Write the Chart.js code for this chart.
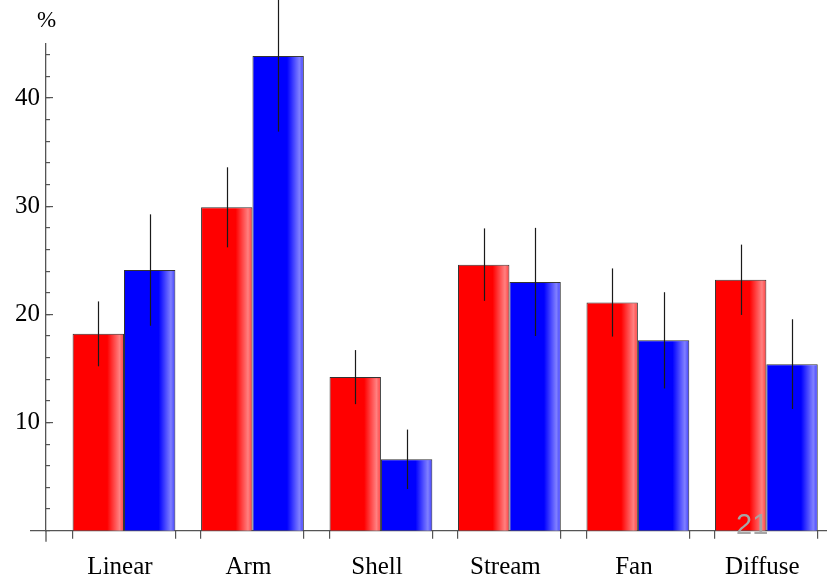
<!DOCTYPE html>
<html>
<head>
<meta charset="utf-8">
<script src="https://cdn.jsdelivr.net/npm/chart.js@4.4.1/dist/chart.umd.min.js"></script>
<style>
  html, body { margin: 0; padding: 0; background: #fff; overflow: hidden; }
  #wrap { position: relative; width: 827px; height: 576px; }
  canvas { display: block; }
  #unit { position: absolute; left: 37px; top: 7px; font: 23px "Liberation Serif", serif; color: #000; }
  #page { position: absolute; left: 736px; top: 508px; font: 29px "Liberation Sans", sans-serif; color: #a6a6a6; }
</style>
</head>
<body>
<div id="wrap">
  <canvas id="chart" width="827" height="576"></canvas>
  <div id="unit">%</div>
  <div id="page">21</div>
</div>
<script>
// Morphology classes and percentages for the two samples, with their uncertainties
const categories = ['Linear', 'Arm', 'Shell', 'Stream', 'Fan', 'Diffuse'];
const redValues  = [18.2, 29.9, 14.2, 24.6, 21.1, 23.2];
const redErrors  = [3.0, 3.7, 2.5, 3.35, 3.15, 3.25];
const blueValues = [24.1, 43.9, 6.6, 23.0, 17.6, 15.4];
const blueErrors = [5.15, 7.0, 2.75, 5.0, 4.45, 4.15];
const yLabelTicks = [10, 20, 30, 40];

// Axis frame
const X_MIN = -0.607, X_MAX = 5.472;
const Y_MIN = 0, Y_MAX = 45;
const GROUP = 0.8;        // fraction of each slot taken by a pair of bars
const AXIS_LEFT = 46;     // width reserved for the y axis
const AXIS_BOTTOM = 45.3; // height reserved for the x axis

const toPoints = vals => vals.map((v, i) => ({ x: i, y: v }));
const groupEdges = categories.flatMap((c, i) => [i - GROUP / 2, i + GROUP / 2]);

// Lighter sheen on the right-hand side of each bar, error bars on top,
// and the axis lines continuing a little past their crossing point
const barDecor = {
  id: 'barDecor',
  afterDatasetsDraw(chart) {
    const ctx = chart.ctx;
    const yScale = chart.scales.y;
    const errs = [redErrors, blueErrors];
    ctx.save();
    chart.data.datasets.forEach((ds, di) => {
      chart.getDatasetMeta(di).data.forEach(bar => {
        const { x, y, base, width } = bar.getProps(['x', 'y', 'base', 'width'], true);
        const l = x - width / 2 + 1, r = x + width / 2 - 1;
        const g = ctx.createLinearGradient(l, 0, r, 0);
        g.addColorStop(0, 'rgba(255,255,255,0)');
        g.addColorStop(0.68, 'rgba(255,255,255,0)');
        g.addColorStop(0.93, 'rgba(255,255,255,0.5)');
        g.addColorStop(1, 'rgba(255,255,255,0.3)');
        ctx.fillStyle = g;
        ctx.fillRect(l, y + 1, r - l, base - y - 1);
      });
    });
    chart.data.datasets.forEach((ds, di) => {
      chart.getDatasetMeta(di).data.forEach((bar, i) => {
        const v = ds.data[i].y, e = errs[di][i];
        const px = Math.round(bar.x) + 0.5;
        ctx.strokeStyle = '#1a1a1a';
        ctx.lineWidth = 1.2;
        ctx.beginPath();
        ctx.moveTo(px, yScale.getPixelForValue(v + e));
        ctx.lineTo(px, yScale.getPixelForValue(v - e));
        ctx.stroke();
      });
    });
    const { left, bottom } = chart.chartArea;
    ctx.strokeStyle = '#555';
    ctx.lineWidth = 1.3;
    ctx.beginPath();
    ctx.moveTo(left - 16, bottom);
    ctx.lineTo(left, bottom);
    ctx.moveTo(left, bottom);
    ctx.lineTo(left, bottom + 11);
    ctx.stroke();
    ctx.restore();
  }
};

const serif = { family: '"Liberation Serif", "Times New Roman", serif', size: 25 };

new Chart(document.getElementById('chart'), {
  type: 'bar',
  data: {
    datasets: [
      { data: toPoints(redValues), backgroundColor: '#ff0000', borderColor: '#333', borderWidth: 1, xAxisID: 'x', yAxisID: 'y' },
      { data: toPoints(blueValues), backgroundColor: '#0000ff', borderColor: '#333', borderWidth: 1, xAxisID: 'x', yAxisID: 'y' }
    ]
  },
  options: {
    responsive: false,
    animation: false,
    categoryPercentage: GROUP,
    barPercentage: 1,
    layout: { padding: { top: 44, bottom: 0, left: 0, right: 0 } },
    plugins: { legend: { display: false }, tooltip: { enabled: false } },
    scales: {
      x: {
        type: 'linear', min: X_MIN, max: X_MAX, offset: false, position: 'bottom', weight: 1, z: 1,
        afterBuildTicks: s => { s.ticks = categories.map((c, i) => ({ value: i })); },
        afterFit: s => { s.height = AXIS_BOTTOM; s.paddingLeft = 0; s.paddingRight = 0; },
        ticks: { callback: v => categories[v] ?? '', font: serif, color: '#000', padding: 0, labelOffset: -4, autoSkip: false, maxRotation: 0 },
        grid: { offset: false, drawOnChartArea: false, drawTicks: true, tickLength: 22, tickColor: 'rgba(0,0,0,0)' },
        border: { color: '#555', width: 1.3 }
      },
      xEdges: {
        type: 'linear', min: X_MIN, max: X_MAX, offset: false, position: 'bottom', weight: 0, z: 1,
        afterBuildTicks: s => { s.ticks = groupEdges.map(v => ({ value: v })); },
        afterFit: s => { s.height = 0; s.paddingLeft = 0; s.paddingRight = 0; },
        ticks: { display: false, padding: 0 },
        grid: { offset: false, drawOnChartArea: false, tickLength: 8, color: '#555', lineWidth: 1.2 },
        border: { display: false }
      },
      y: {
        type: 'linear', min: Y_MIN, max: Y_MAX, position: 'left', weight: 1,
        afterBuildTicks: s => { s.ticks = yLabelTicks.map(v => ({ value: v })); },
        afterFit: s => { s.width = AXIS_LEFT; },
        ticks: { font: serif, color: '#000', padding: 13 },
        grid: { drawOnChartArea: false, tickLength: -7, color: '#555', lineWidth: 1.2 },
        border: { color: '#555', width: 1.3 }
      },
      yMinor: {
        type: 'linear', min: Y_MIN, max: Y_MAX, position: 'left', weight: 0,
        afterFit: s => { s.width = 0; },
        ticks: { display: false, stepSize: 2, includeBounds: false },
        grid: { drawOnChartArea: false, tickLength: -4, color: '#555', lineWidth: 1.2 },
        border: { display: false }
      }
    }
  },
  plugins: [barDecor]
});
</script>
</body>
</html>
